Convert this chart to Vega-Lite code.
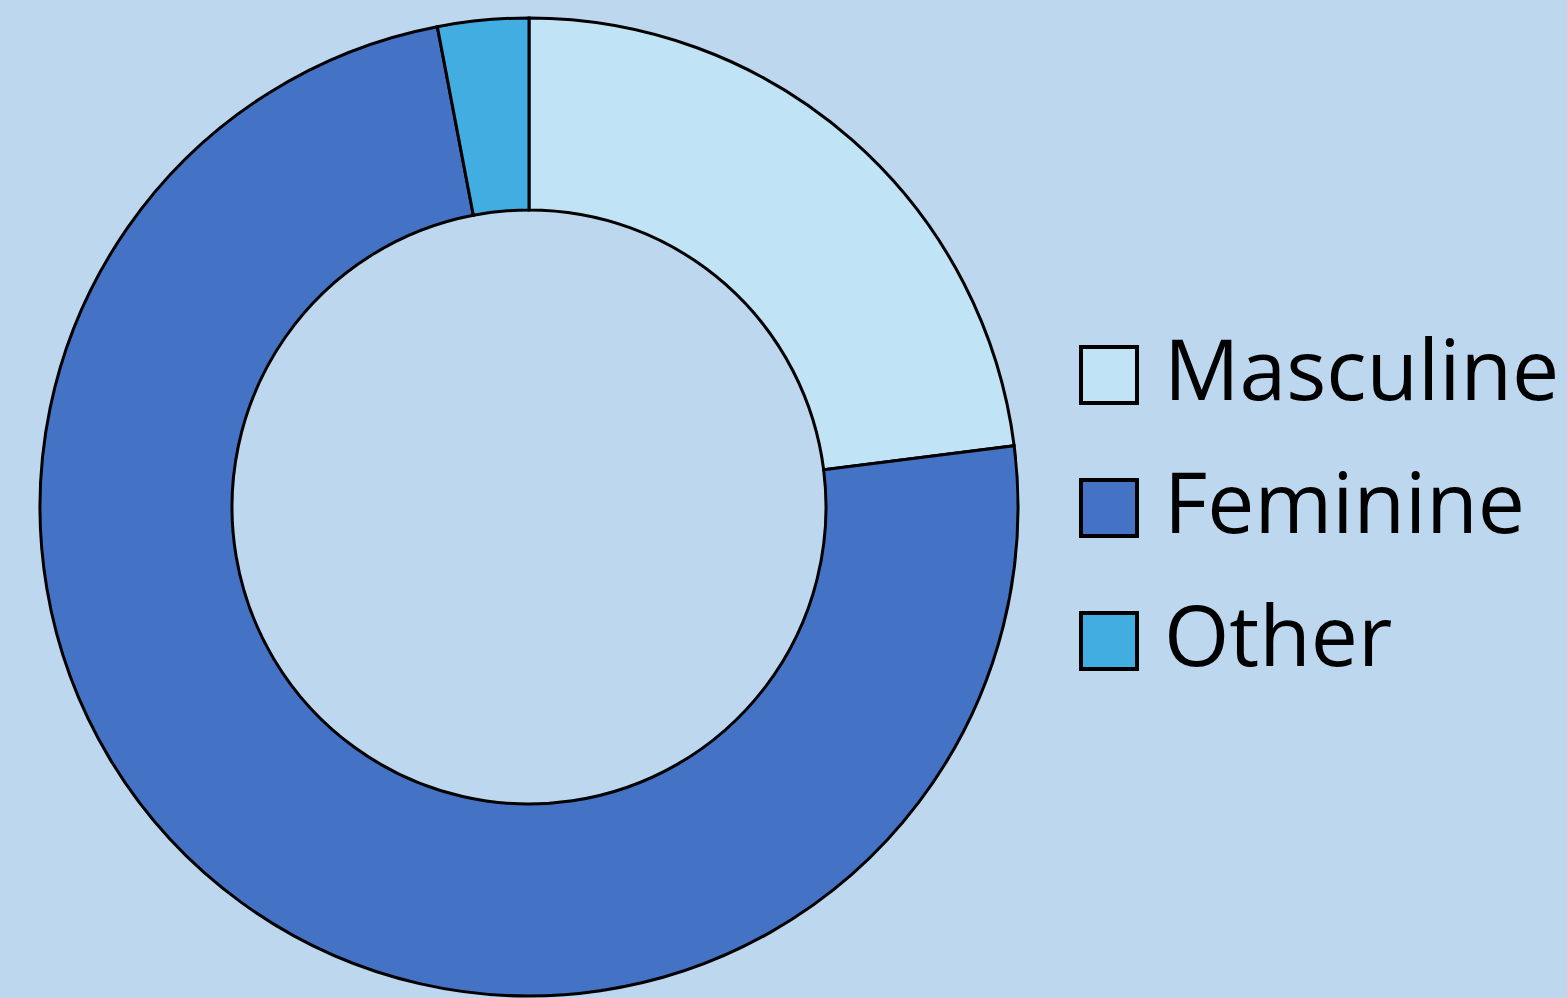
{
  "$schema": "https://vega.github.io/schema/vega-lite/v6.json",
  "width": 1058,
  "height": 982,
  "padding": {"left": 0, "top": 16, "right": 509, "bottom": 0},
  "autosize": {"type": "none"},
  "background": "#BDD7EE",
  "data": {
    "values": [
      {"category": "Masculine", "value": 23, "idx": 1},
      {"category": "Feminine", "value": 74, "idx": 2},
      {"category": "Other", "value": 3, "idx": 3}
    ]
  },
  "mark": {"type": "arc", "innerRadius": 297, "outerRadius": 489, "stroke": "black", "strokeWidth": 3},
  "encoding": {
    "theta": {"field": "value", "type": "quantitative", "stack": true},
    "order": {"field": "idx", "type": "quantitative"},
    "color": {
      "field": "category",
      "type": "nominal",
      "sort": ["Masculine", "Feminine", "Other"],
      "scale": {"domain": ["Masculine", "Feminine", "Other"], "range": ["#C0E3F5", "#4472C4", "#42ADE1"]},
      "legend": {
        "title": null,
        "orient": "none",
        "legendX": 1067,
        "legendY": 317,
        "symbolType": "square",
        "symbolSize": 3136,
        "symbolStrokeColor": "black",
        "symbolStrokeWidth": 4,
        "symbolOpacity": 1,
        "labelFont": "Open Sans",
        "labelFontSize": 84,
        "labelColor": "black",
        "labelOffset": 13,
        "rowPadding": 49,
        "labelLimit": 600
      }
    }
  },
  "config": {"view": {"stroke": null}}
}
